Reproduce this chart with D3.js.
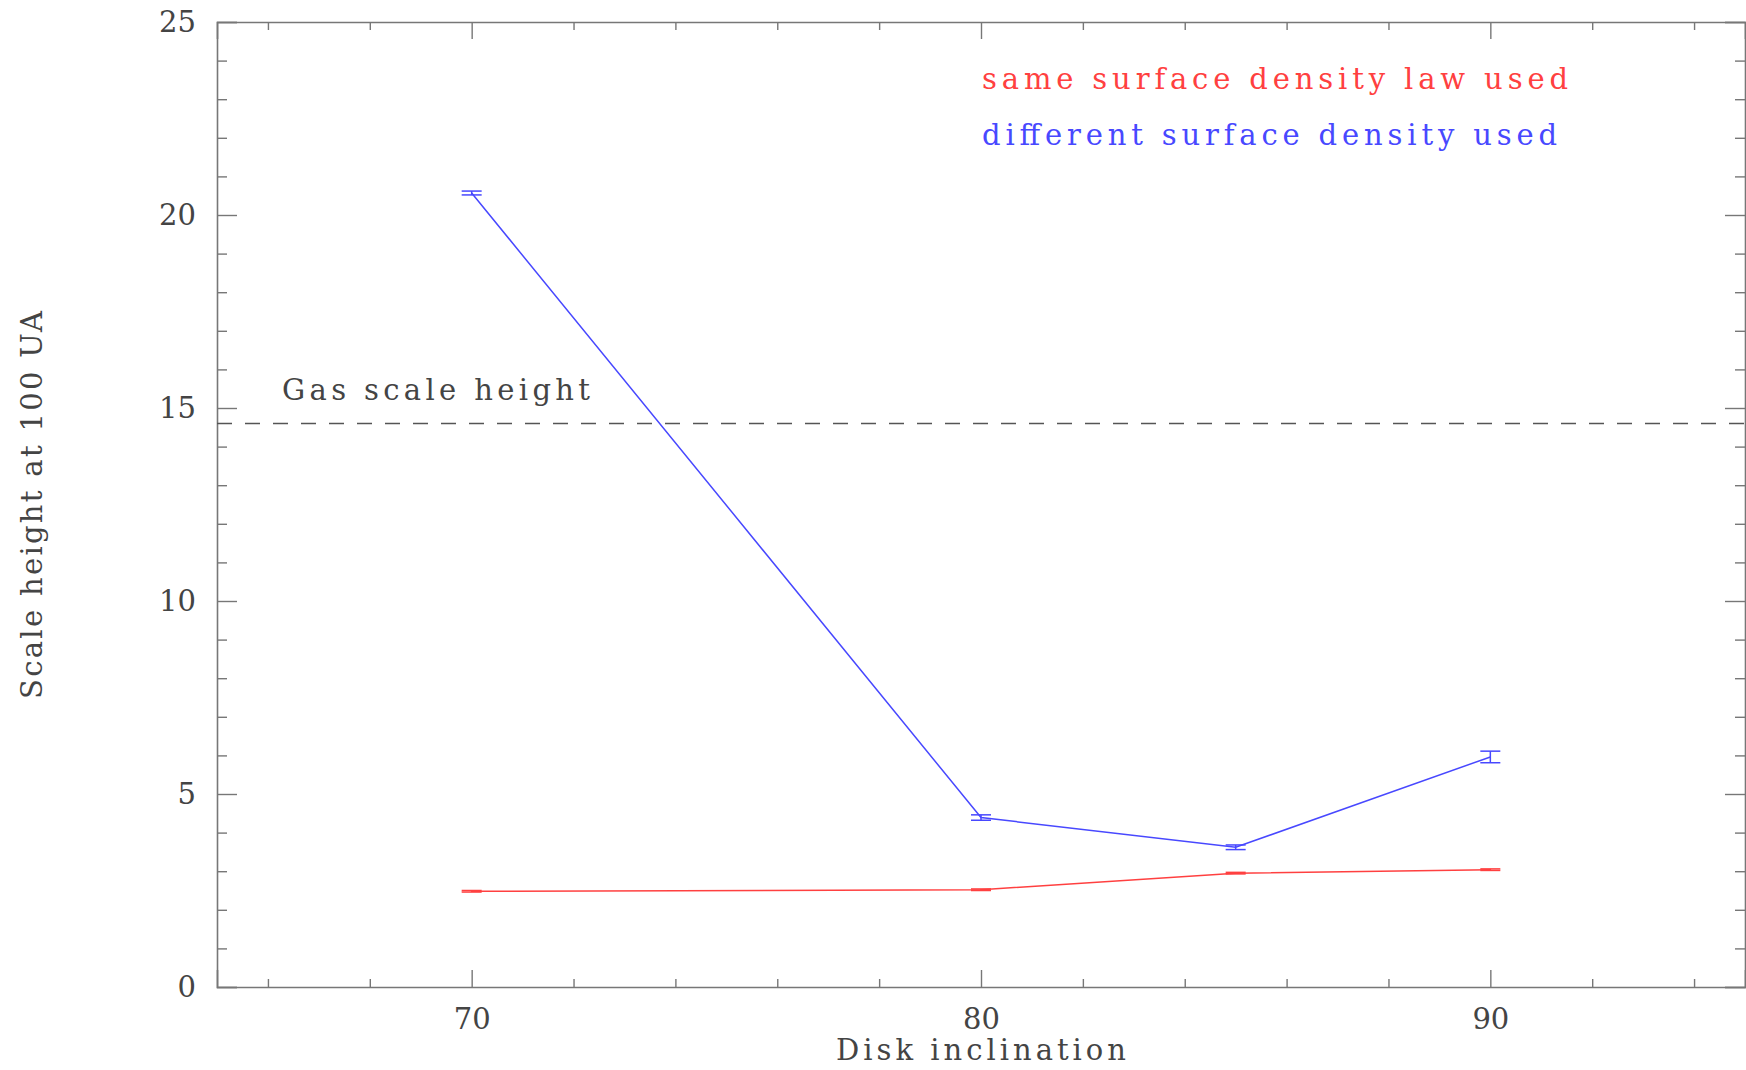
<!DOCTYPE html>
<html>
<head>
<meta charset="utf-8">
<script src="https://cdn.jsdelivr.net/npm/d3@7"></script>
<style>
  body { margin: 0; background: #fff; }
  svg text { font-family: "DejaVu Serif", "Liberation Serif", serif; fill: #444; }
  .frame path.domain { stroke: #777; stroke-width: 1.6; }
  .frame line { stroke: #777; stroke-width: 1.4; }
</style>
</head>
<body>
<svg width="1746" height="1070"></svg>
<script>
// inclinations (degrees)
const inclinations = [70, 80, 85, 90];
// scale height at 100 UA, same surface density law
const sameLaw = [2.48, 2.52, 2.95, 3.04];
const sameLawErr = [0.02, 0.02, 0.02, 0.02];
// scale height at 100 UA, different surface density
const diffLaw = [20.57, 4.39, 3.62, 5.96];
const diffLawErr = [0.05, 0.07, 0.06, 0.15];
// gas scale height reference
const gasHeight = 14.6;

const xMajor = [70, 80, 90];
const xMinor = [66, 68, 72, 74, 76, 78, 82, 84, 86, 88, 92, 94];
const yMajor = [0, 5, 10, 15, 20, 25];
const yMinor = d3.range(0, 26).filter(v => v % 5 !== 0);

// chart dimensions
const margin = { top: 22, right: 1, bottom: 83, left: 217 };
const width = 1746 - margin.left - margin.right;
const height = 1070 - margin.top - margin.bottom;

const x = d3.scaleLinear().domain([65, 95]).range([0, width]);
const y = d3.scaleLinear().domain([0, 25]).range([height, 0]);

const svg = d3.select("svg")
  .append("g")
  .attr("transform", "translate(" + margin.left + "," + margin.top + ")");

// frame: ticks point inward on all four sides
function frameAxis(axis, transform, values, size, labels) {
  const g = svg.append("g")
    .attr("class", "frame")
    .attr("transform", transform)
    .call(axis.tickValues(values).tickSize(size).tickPadding(labels ? 21 : 0)
      .tickFormat(labels ? d3.format("d") : ""));
  g.selectAll("text").style("font-size", "29px").attr("fill", "#444");
  return g;
}

frameAxis(d3.axisBottom(x), "translate(0," + height + ")", xMajor, -17, true);
frameAxis(d3.axisBottom(x), "translate(0," + height + ")", xMinor, -8, false).select(".domain").remove();
frameAxis(d3.axisTop(x), "translate(0,0)", xMajor, -17, false);
frameAxis(d3.axisTop(x), "translate(0,0)", xMinor, -8, false).select(".domain").remove();
frameAxis(d3.axisLeft(y), "translate(0,0)", yMajor, -20, true);
frameAxis(d3.axisLeft(y), "translate(0,0)", yMinor, -10, false).select(".domain").remove();
frameAxis(d3.axisRight(y), "translate(" + width + ",0)", yMajor, -20, false);
frameAxis(d3.axisRight(y), "translate(" + width + ",0)", yMinor, -10, false).select(".domain").remove();

// gas scale height
svg.append("line")
  .attr("x1", 0).attr("x2", width)
  .attr("y1", y(gasHeight)).attr("y2", y(gasHeight))
  .attr("stroke", "#555").attr("stroke-width", 1.4)
  .attr("stroke-dasharray", "15,13");
svg.append("text")
  .attr("x", 65).attr("y", y(gasHeight) - 23)
  .attr("textLength", 308).attr("lengthAdjust", "spacing")
  .style("font-size", "29px")
  .text("Gas scale height");

// series
const series = [
  { values: sameLaw, errs: sameLawErr, color: "#ff4040" },
  { values: diffLaw, errs: diffLawErr, color: "#4848ff" }
];

const line = d3.line()
  .x((d, i) => x(inclinations[i]))
  .y(d => y(d));

series.forEach(s => {
  svg.append("path")
    .datum(s.values)
    .attr("fill", "none")
    .attr("stroke", s.color)
    .attr("stroke-width", 1.5)
    .attr("d", line);

  const eb = svg.append("g");
  s.values.forEach((v, i) => {
    const cx = x(inclinations[i]);
    const lo = y(v - s.errs[i]);
    const hi = y(v + s.errs[i]);
    eb.append("line").attr("x1", cx).attr("x2", cx).attr("y1", lo).attr("y2", hi);
    eb.append("line").attr("x1", cx - 10).attr("x2", cx + 10).attr("y1", lo).attr("y2", lo);
    eb.append("line").attr("x1", cx - 10).attr("x2", cx + 10).attr("y1", hi).attr("y2", hi);
  });
  eb.selectAll("line").attr("stroke", s.color).attr("stroke-width", 1.5);
});

// legend
svg.append("text")
  .attr("x", 982 - margin.left).attr("y", 89 - margin.top)
  .attr("textLength", 586).attr("lengthAdjust", "spacing")
  .style("font-size", "29px").style("fill", "#ff4040")
  .text("same surface density law used");
svg.append("text")
  .attr("x", 982 - margin.left).attr("y", 145 - margin.top)
  .attr("textLength", 575).attr("lengthAdjust", "spacing")
  .style("font-size", "29px").style("fill", "#4848ff")
  .text("different surface density used");

// axis titles
svg.append("text")
  .attr("x", x(80)).attr("y", 1060 - margin.top)
  .attr("text-anchor", "middle")
  .attr("textLength", 290).attr("lengthAdjust", "spacing")
  .style("font-size", "29px")
  .text("Disk inclination");
svg.append("text")
  .attr("transform", "translate(" + (42 - margin.left) + "," + (505 - margin.top) + ") rotate(-90)")
  .attr("text-anchor", "middle")
  .attr("textLength", 388).attr("lengthAdjust", "spacing")
  .style("font-size", "29px")
  .text("Scale height at 100 UA");
</script>
</body>
</html>
